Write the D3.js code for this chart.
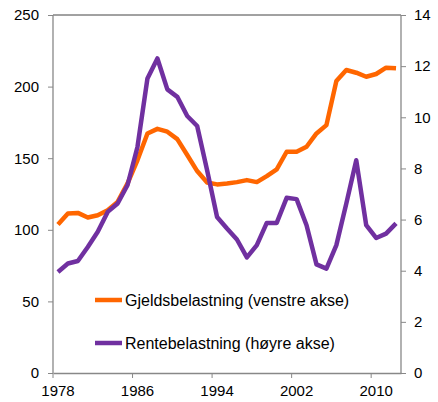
<!DOCTYPE html>
<html>
<head>
<meta charset="utf-8">
<script src="https://cdn.jsdelivr.net/npm/d3@7"></script>
<style>
  body { margin: 0; background: #fff; }
  text { font-family: "Liberation Sans", Arial, sans-serif; fill: #000; }
</style>
</head>
<body>
<div id="visual"></div>
<script>
// data
const years = [1978, 1979, 1980, 1981, 1982, 1983, 1984, 1985, 1986, 1987,
  1988, 1989, 1990, 1991, 1992, 1993, 1994, 1995, 1996, 1997,
  1998, 1999, 2000, 2001, 2002, 2003, 2004, 2005, 2006, 2007,
  2008, 2009, 2010, 2011, 2012];
const gjeld = [103.7, 111.4, 111.8, 108.6, 110.2, 113.7, 119.5, 132.4, 148.7, 167.3,
  170.5, 168.5, 163.3, 152.2, 141, 133, 131.7, 132.4, 133.3, 134.7,
  133.3, 137.5, 142.2, 154.5, 154.5, 158, 167.3, 173.1, 203.9, 211.6,
  209.7, 206.9, 208.8, 213.2, 212.8];
const rente = [3.95, 4.28, 4.38, 4.93, 5.52, 6.3, 6.63, 7.35, 8.85, 11.52,
  12.3, 11.09, 10.8, 10.05, 9.66, 7.93, 6.1, 5.65, 5.22, 4.52,
  5.0, 5.87, 5.87, 6.85, 6.8, 5.78, 4.25, 4.08, 5.0, 6.63,
  8.32, 5.78, 5.28, 5.45, 5.85];
const leftTicks = [0, 50, 100, 150, 200, 250];
const rightTicks = [0, 2, 4, 6, 8, 10, 12, 14];
const yearLabels = [1978, 1986, 1994, 2002, 2010];
const seriesNames = ["Gjeldsbelastning (venstre akse)", "Rentebelastning (høyre akse)"];
const colors = ["#ff6600", "#7030a0"];

const W = 438, H = 402;
const margin = { top: 15, right: 37, bottom: 29, left: 53 };
const width = W - margin.left - margin.right;
const height = H - margin.top - margin.bottom;

const svg = d3.select("#visual")
  .append("svg")
  .attr("width", W)
  .attr("height", H)
  .append("g")
  .attr("transform", `translate(${margin.left},${margin.top})`);

const x = d3.scaleBand()
  .domain(years)
  .range([0, width])
  .padding(0);
const yL = d3.scaleLinear().domain([0, 250]).range([height, 0]);
const yR = d3.scaleLinear().domain([0, 14]).range([height, 0]);
const cx = d => x(d) + x.bandwidth() / 2;

// frame on top
svg.append("line")
  .attr("x1", 0).attr("x2", width)
  .attr("y1", 0).attr("y2", 0)
  .attr("stroke", "#444").attr("stroke-width", 1);

// Axes
const left = svg.append("g")
  .call(d3.axisLeft(yL).tickValues(leftTicks).tickSize(5).tickPadding(9));
const right = svg.append("g")
  .attr("transform", `translate(${width},0)`)
  .call(d3.axisRight(yR).tickValues(rightTicks).tickSize(5).tickPadding(8));
const bottom = svg.append("g")
  .attr("transform", `translate(0,${height})`)
  .call(d3.axisBottom(x).tickValues(yearLabels).tickSize(0).tickPadding(12));

// category ticks sit on the band edges
bottom.selectAll(".edge")
  .data(yearLabels)
  .enter().append("line")
  .attr("class", "edge")
  .attr("x1", d => x(d)).attr("x2", d => x(d))
  .attr("y1", 0).attr("y2", 5)
  .attr("stroke", "#888");

[left, right, bottom].forEach(g => {
  g.selectAll(".domain").attr("stroke", "#888").attr("stroke-width", 1.3);
  g.selectAll(".tick line").attr("stroke", "#888");
  g.selectAll("text").attr("font-size", 15).attr("font-family", "Liberation Sans, Arial, sans-serif").attr("fill", "#000");
});
left.select(".domain").attr("d", `M0,${height}V0`);
right.select(".domain").attr("d", `M0,${height}V0`);

// Lines
const lineL = d3.line().x((d, i) => cx(years[i])).y(d => yL(d));
const lineR = d3.line().x((d, i) => cx(years[i])).y(d => yR(d));

svg.append("path")
  .datum(gjeld)
  .attr("d", lineL)
  .attr("fill", "none")
  .attr("stroke", colors[0])
  .attr("stroke-width", 4.5)
  .attr("stroke-linejoin", "round");

svg.append("path")
  .datum(rente)
  .attr("d", lineR)
  .attr("fill", "none")
  .attr("stroke", colors[1])
  .attr("stroke-width", 4.5)
  .attr("stroke-linejoin", "round");

// Legend
const legend = svg.selectAll(".legend")
  .data(seriesNames)
  .enter().append("g")
  .attr("class", "legend")
  .attr("transform", (d, i) => `translate(${95 - margin.left},${300 - margin.top + i * 43})`);

legend.append("line")
  .attr("x1", 0).attr("x2", 27)
  .attr("y1", 0).attr("y2", 0)
  .attr("stroke", (d, i) => colors[i])
  .attr("stroke-width", 4.5);

legend.append("text")
  .attr("x", 30)
  .attr("y", 5.5)
  .attr("font-size", 16)
  .text(d => d);
</script>
</body>
</html>
